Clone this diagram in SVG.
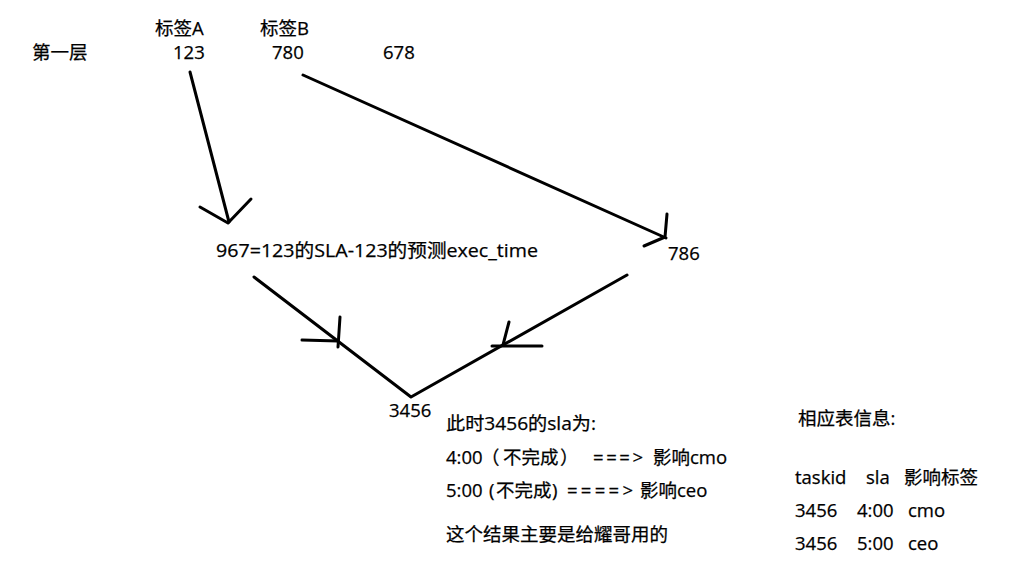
<svg xmlns="http://www.w3.org/2000/svg" width="1032" height="564" viewBox="0 0 1032 564">
<style>
text{font-family:"Open Sans","Noto Sans CJK SC",sans-serif;font-size:18.5px;fill:#000;stroke:#000;stroke-width:0.25}
.ln{stroke:#000;stroke-width:3;fill:none;stroke-linecap:round;stroke-linejoin:round}
</style>
<rect width="1032" height="564" fill="#fff"/>
<g id="layer-label"><text x="32" y="59">第一层</text></g>
<g id="node-123"><text x="155" y="35">标签A</text><text x="173" y="59">123</text></g>
<g id="node-780"><text x="260" y="35">标签B</text><text x="272" y="59">780</text></g>
<g id="node-678"><text x="383" y="59">678</text></g>
<g id="node-967"><text x="216" y="257" textLength="322" lengthAdjust="spacingAndGlyphs">967=123的SLA-123的预测exec_time</text></g>
<g id="node-786"><text x="668" y="260">786</text></g>
<g id="node-3456"><text x="389" y="417">3456</text></g>
<g id="notes">
<text x="446" y="430" textLength="150" lengthAdjust="spacingAndGlyphs">此时3456的sla为:</text>
<text x="446" y="464">4:00</text>
<text x="481" y="464">（</text>
<text x="503" y="464">不完成</text>
<text x="560" y="464">）</text>
<text x="593" y="464" textLength="50" lengthAdjust="spacing">===&gt;</text>
<text x="653" y="464">影响cmo</text>
<text x="446" y="497">5:00</text>
<text x="489" y="497">(</text>
<text x="496" y="497">不完成</text>
<text x="552" y="497">)</text>
<text x="567" y="497" textLength="66" lengthAdjust="spacing">====&gt;</text>
<text x="640" y="497">影响ceo</text>
<text x="446" y="541">这个结果主要是给耀哥用的</text>
</g>
<g id="table">
<text x="798" y="425">相应表信息:</text>
<text y="484"><tspan x="795">taskid</tspan><tspan x="866">sla</tspan><tspan x="904">影响标签</tspan></text>
<text y="517"><tspan x="795">3456</tspan><tspan x="857">4:00</tspan><tspan x="908">cmo</tspan></text>
<text y="550"><tspan x="795">3456</tspan><tspan x="857">5:00</tspan><tspan x="908">ceo</tspan></text>
</g>
<g id="connectors" class="ln">
<path d="M190 72 L229 222"/>
<path d="M200 207 L228 223 L251 199"/>
<path d="M303 75 L666 238"/>
<path d="M667 214 L665 237 L644 246"/>
<path d="M254 277 L411 397 L627 275"/>
<path d="M302 340 L338 341"/>
<path d="M340 317 L338 347"/>
<path d="M492 346 L542 346"/>
<path d="M509 322 L503 345"/>
</g>
</svg>
